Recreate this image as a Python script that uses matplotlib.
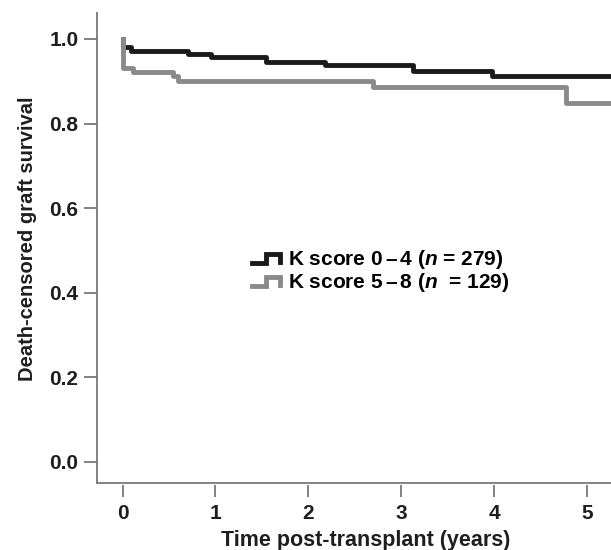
import numpy as np
import matplotlib
matplotlib.use("Agg")
import matplotlib.pyplot as plt
from matplotlib.lines import Line2D
from matplotlib.legend_handler import HandlerBase

plt.rcParams['font.family'] = ['Liberation Sans', 'DejaVu Sans']
plt.rcParams['font.weight'] = 'bold'
plt.rcParams['mathtext.fontset'] = 'custom'
plt.rcParams['mathtext.rm'] = 'Liberation Sans:bold'
plt.rcParams['mathtext.it'] = 'Liberation Sans:bold:italic'

# Kaplan-Meier step data (years, survival)
t_low = [0, 0.01, 0.09, 0.71, 0.95, 1.54, 2.18, 3.13, 3.98, 5.4]
s_low = [1.0, 0.980, 0.972, 0.965, 0.957, 0.946, 0.938, 0.925, 0.912, 0.912]

t_high = [0, 0.01, 0.11, 0.54, 0.60, 2.70, 4.78, 5.4]
s_high = [1.0, 0.931, 0.923, 0.912, 0.901, 0.887, 0.849, 0.849]

labels = [r"K score 0$\,$–$\,$4 ($n$ = 279)", r"K score 5$\,$–$\,$8 ($n$  = 129)"]
xticks = [0, 1, 2, 3, 4, 5]
yticks = [0.0, 0.2, 0.4, 0.6, 0.8, 1.0]


class StepHandler(HandlerBase):
    def create_artists(self, legend, orig_handle, xdescent, ydescent,
                       width, height, fontsize, trans):
        xs = np.array([0, 0.5, 0.5, 1, 1]) * width - xdescent
        ys = np.array([0.2, 0.2, 0.75, 0.75, 0.25]) * height - ydescent
        ln = Line2D(xs, ys, color=orig_handle.get_color(),
                    lw=orig_handle.get_linewidth(), solid_joinstyle='miter')
        ln.set_transform(trans)
        return [ln]


fig = plt.figure(figsize=(6.11, 5.5), dpi=100)
ax = fig.add_axes([96.5 / 611, 1 - 483 / 550, 1 - 96.5 / 611, (483 - 13) / 550])

l1, = ax.step(t_low, s_low, where='post', color='#1a1a1a', lw=3.5, label=labels[0])
l2, = ax.step(t_high, s_high, where='post', color='#8a8a8c', lw=3.5, label=labels[1])

ymin = -0.0505
ax.set_xlim(-0.28, 5.26)
ax.set_ylim(ymin, 1.0615)

ax.spines['top'].set_visible(False)
ax.spines['right'].set_visible(False)
ax.spines['left'].set_color('#777777')
ax.spines['left'].set_linewidth(1.3)
ax.spines['bottom'].set_visible(False)
ax.spines['bottom'].set_position(('outward', 1.5))
ax.axhline(ymin, color='#777777', lw=1.3, clip_on=False)

ax.set_xticks(xticks)
ax.set_yticks(yticks)
ax.set_yticklabels([f"{v:.1f}" for v in yticks])
ax.tick_params(axis='x', length=8.5, width=1.3, color='#777777', pad=5,
               labelsize=15, labelcolor='#1e1e1e')
ax.tick_params(axis='y', length=9.5, width=1.3, color='#777777', pad=3.5,
               labelsize=15, labelcolor='#1e1e1e')

ax.set_xlabel("Time post-transplant (years)", fontsize=15.5, fontweight='bold',
              color='#1e1e1e', labelpad=5)
ax.xaxis.label.set_x(0.524)
ax.set_ylabel("Death-censored graft survival", fontsize=14.5, fontweight='bold',
              color='#1e1e1e', labelpad=9)
ax.yaxis.label.set_y(0.52)

ax.legend(handles=[l1, l2], handler_map={Line2D: StepHandler()},
          loc='upper left', bbox_to_anchor=(242 / 611, 1 - 238 / 550),
          bbox_transform=fig.transFigure, frameon=False, fontsize=15,
          handlelength=1.3, handletextpad=0.4, borderpad=0, labelspacing=0.0)

fig.savefig("out.png", dpi=100)
